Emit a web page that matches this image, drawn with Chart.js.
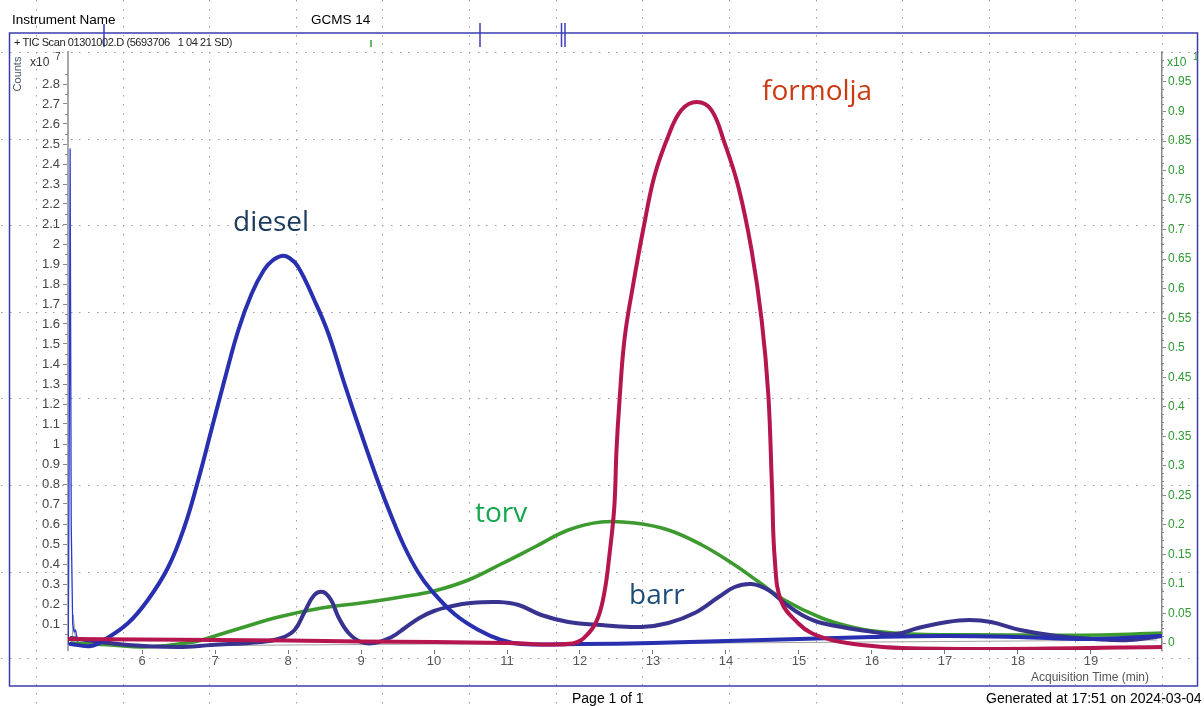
<!DOCTYPE html>
<html><head><meta charset="utf-8">
<script src="https://cdn.jsdelivr.net/npm/chart.js@4.4.1/dist/chart.umd.min.js"></script>
<style>
html,body{margin:0;padding:0;background:#fff;}
#wrap{position:relative;width:1204px;height:706px;overflow:hidden;font-family:"Liberation Sans",Arial,sans-serif;}
canvas{position:absolute;left:0;top:0;}
.t{position:absolute;white-space:nowrap;line-height:1;}
.ann{position:absolute;white-space:nowrap;font-family:"Open Sans",sans-serif;font-size:28px;line-height:28px;}
</style></head>
<body><div id="wrap"><canvas id="c" width="1204" height="706"></canvas>
<div class="t" style="left:12px;top:13px;font-size:13.5px;color:#000">Instrument Name</div>
<div class="t" style="left:311px;top:13px;font-size:13.5px;color:#000">GCMS 14</div>
<div class="t" style="left:14px;top:37px;font-size:11px;letter-spacing:-0.4px;color:#222">+ TIC Scan 01301002.D (5693706&nbsp;&nbsp; 1 04 21 SD)</div>
<div class="t" style="left:17px;top:74px;font-size:11px;color:#4c5868;transform:translate(-50%,-50%) rotate(-90deg)">Counts</div>
<div class="t" style="left:30px;top:56px;font-size:12px;color:#333">x10</div>
<div class="t" style="left:55px;top:52px;font-size:10px;color:#333">7</div>
<div class="t" style="left:1167px;top:56px;font-size:12px;color:#2e9b33">x10</div>
<div class="t" style="left:1193px;top:52px;font-size:10px;color:#2e9b33">1</div>
<div class="t" style="left:1031px;top:671px;font-size:12px;color:#555">Acquisition Time (min)</div>
<div class="t" style="left:572px;top:691px;font-size:14px;color:#000">Page 1 of 1</div>
<div class="t" style="left:986px;top:691px;font-size:14px;color:#000">Generated at 17:51 on 2024-03-04</div>
<div class="ann" style="left:233px;top:206px;color:#1c3a5c">diesel</div>
<div class="ann" style="left:475px;top:497px;color:#14a84e">torv</div>
<div class="ann" style="left:629px;top:579px;color:#1f4d7a">barr</div>
<div class="ann" style="left:762px;top:75px;color:#cc3a12">formolja</div>
</div>
<script>
// ---- data (time in min, counts in x10^7) ----
const dieselTime   = [5.02,5.3,5.48,5.81,6.08,6.36,6.58,6.77,6.95,7.13,7.32,7.5,7.67,7.78,7.91,8.02,8.14,8.36,8.55,8.77,9.0,9.24,9.42,9.59,9.78,9.96,10.28,10.61,10.92,11.2,12.0,13.0,14.0,15.0,16.0,17.0,18.0,19.0,19.97];
const dieselCounts = [0.0,-0.01,0.02,0.105,0.22,0.385,0.585,0.82,1.07,1.32,1.57,1.75,1.87,1.915,1.94,1.93,1.885,1.72,1.555,1.305,1.055,0.805,0.635,0.49,0.36,0.27,0.15,0.07,0.02,0.0,0.0,0.005,0.015,0.025,0.035,0.04,0.035,0.025,0.04];

const barrTime   = [5.03,5.81,6.49,6.95,7.63,7.91,8.09,8.22,8.36,8.48,8.59,8.69,8.83,9.0,9.18,9.42,9.6,9.8,10.0,10.25,10.5,10.88,11.16,11.47,11.84,12.29,12.84,13.21,13.57,13.9,14.12,14.35,14.58,14.8,15.04,15.31,16.02,16.33,16.63,17.03,17.33,17.63,18.03,18.53,19.03,19.53,19.97];
const barrCounts = [0.03,-0.005,-0.015,-0.005,0.01,0.03,0.07,0.155,0.245,0.26,0.22,0.135,0.055,0.01,0.005,0.035,0.08,0.13,0.165,0.19,0.205,0.21,0.195,0.145,0.11,0.095,0.085,0.105,0.155,0.235,0.285,0.3,0.27,0.205,0.145,0.105,0.06,0.05,0.08,0.11,0.12,0.11,0.07,0.04,0.025,0.02,0.04];

const torvTime   = [5.03,5.58,6.03,6.71,7.04,7.4,7.87,8.46,9.0,9.55,10.0,10.47,10.92,11.38,11.84,12.29,12.75,13.21,13.67,14.12,14.45,14.8,15.31,15.72,16.02,16.53,17.78,19.15,19.97];
const torvCounts = [0.005,-0.005,-0.015,0.01,0.045,0.085,0.135,0.18,0.205,0.235,0.265,0.32,0.4,0.485,0.57,0.61,0.605,0.57,0.495,0.395,0.31,0.22,0.13,0.085,0.065,0.05,0.045,0.045,0.055];

const formoljaTime   = [5.0,6.0,7.0,8.0,9.0,10.0,11.0,11.9,12.12,12.25,12.34,12.4,12.47,12.5,12.54,12.61,12.73,12.87,13.02,13.21,13.39,13.6,13.8,13.98,14.17,14.35,14.49,14.58,14.63,14.67,14.76,15.0,15.17,15.45,15.86,16.41,17.78,19.97];
const formoljaCounts = [0.025,0.023,0.02,0.017,0.013,0.01,0.005,0.003,0.055,0.135,0.27,0.435,0.685,0.97,1.21,1.525,1.8,2.08,2.34,2.54,2.67,2.71,2.67,2.505,2.285,1.97,1.615,1.245,0.785,0.415,0.21,0.1,0.055,0.02,-0.005,-0.02,-0.025,-0.015];

const ticTime   = [4.99,5.005,5.015,5.03,5.05,5.07,5.09,5.12,5.2];
const ticCounts = [0.0,1.2,2.475,0.6,0.1,0.06,0.07,0.01,-0.015];

const ticGreyTime   = [5.04,5.06,5.08,5.1,5.13,6,8,10,12,14,16,18,19.9];
const ticGreyCounts = [0.0,0.145,0.05,0.02,0.0,-0.01,-0.005,0.0,0.0,0.005,0.01,0.015,0.02];

const xTickValues     = [6,7,8,9,10,11,12,13,14,15,16,17,18,19];
const leftTickValues  = [0.1,0.2,0.3,0.4,0.5,0.6,0.7,0.8,0.9,1,1.1,1.2,1.3,1.4,1.5,1.6,1.7,1.8,1.9,2,2.1,2.2,2.3,2.4,2.5,2.6,2.7,2.8];
const rightTickValues = [0,0.05,0.1,0.15,0.2,0.25,0.3,0.35,0.4,0.45,0.5,0.55,0.6,0.65,0.7,0.75,0.8,0.85,0.9,0.95];

const mk = (t, v) => t.map((x, i) => ({x: x, y: v[i]}));
const fmt = v => String(+(+v).toFixed(2));

const pagePlugin = {
  id: 'page',
  beforeDatasetsDraw(chart) {
    const ctx = chart.ctx;
    ctx.save();
    ctx.fillStyle = '#9c9c9c';
    const step = 86.62, d = step / 10;
    for (let gx = 36; gx < 1204; gx += step) {
      for (let y = 52 % d; y < 706; y += d) ctx.fillRect(Math.round(gx), Math.round(y), 1, 1.5);
    }
    for (let gy = 52; gy < 706; gy += step) {
      for (let x = 36 % d; x < 1204; x += d) ctx.fillRect(Math.round(x), Math.round(gy), 1.5, 1);
    }
    ctx.restore();
  },
  afterDraw(chart) {
    const ctx = chart.ctx;
    const ys = chart.scales.y, y2 = chart.scales.y2;
    ctx.save();
    ctx.strokeStyle = '#8a8a8a'; ctx.lineWidth = 1;
    for (let k = 1; k <= 57; k += 2) {
      const p = Math.round(ys.getPixelForValue(k * 0.05)) + 0.5;
      ctx.beginPath(); ctx.moveTo(65, p); ctx.lineTo(68, p); ctx.stroke();
    }
    for (let k = 1; k < 80; k++) {
      if (k % 4 === 0) continue;
      const p = Math.round(y2.getPixelForValue(k * 0.0125)) + 0.5;
      ctx.beginPath(); ctx.moveTo(1162, p); ctx.lineTo(1164, p); ctx.stroke();
    }
    ctx.strokeStyle = '#3c3cb0'; ctx.lineWidth = 1.5;
    ctx.strokeRect(9.5, 33, 1188, 653);
    ctx.strokeStyle = '#3c3cb8'; ctx.lineWidth = 1.5;
    [[104,24,47],[480,23,47],[561.5,23,47],[565,23,47]].forEach(m => {
      ctx.beginPath(); ctx.moveTo(m[0], m[1]); ctx.lineTo(m[0], m[2]); ctx.stroke();
    });
    ctx.strokeStyle = '#3aa03a';
    ctx.beginPath(); ctx.moveTo(371, 40); ctx.lineTo(371, 47); ctx.stroke();
    ctx.restore();
  }
};

const line = (label, t, v, color, w, tension) => ({
  label, data: mk(t, v), borderColor: color, borderWidth: w, pointRadius: 0, fill: false,
  cubicInterpolationMode: 'default', tension: tension,
  borderCapStyle: 'round', borderJoinStyle: 'round'
});

new Chart(document.getElementById('c').getContext('2d'), {
  type: 'line',
  data: { datasets: [
    line('formolja', formoljaTime, formoljaCounts, '#b5164f', 4, 0.4),
    line('diesel', dieselTime, dieselCounts, '#2830b0', 4, 0.4),
    line('barr', barrTime, barrCounts, '#38338f', 4, 0.4),
    line('torv', torvTime, torvCounts, '#3c9a2f', 3.6, 0.4),
    line('TIC', ticTime, ticCounts, '#2a3ad0', 1.3, 0),
    line('TIC2', ticGreyTime, ticGreyCounts, '#a0a0a0', 1, 0)
  ]},
  options: {
    responsive: false, animation: false, events: [],
    layout: { padding: { top: 52, left: 0, right: 0, bottom: 0 } },
    plugins: { legend: { display: false }, tooltip: { enabled: false } },
    scales: {
      x: {
        type: 'linear', position: 'bottom', min: 4.986, max: 19.973,
        afterFit(s) { s.height = 56; },
        afterBuildTicks(s) { s.ticks = xTickValues.map(v => ({value: v})); },
        grid: { display: true, drawOnChartArea: false, drawTicks: true, tickLength: 4, color: '#777' },
        border: { display: false },
        ticks: { autoSkip: false, maxRotation: 0, padding: 0, color: '#555', font: { family: 'Liberation Sans', size: 13 }, callback: v => fmt(v) }
      },
      y: {
        type: 'linear', position: 'left', min: -0.03, max: 2.96,
        afterFit(s) { s.width = 68; },
        afterBuildTicks(s) { s.ticks = leftTickValues.map(v => ({value: v})); },
        grid: { display: true, drawOnChartArea: false, drawTicks: true, tickLength: 5, color: '#888' },
        border: { display: true, color: '#a8a8a8', width: 2 },
        ticks: { autoSkip: false, padding: 3, color: '#444', font: { family: 'Liberation Sans', size: 13 }, callback: v => fmt(v) }
      },
      y2: {
        type: 'linear', position: 'right', min: -0.01185, max: 1.0008,
        afterFit(s) { s.width = 42; },
        afterBuildTicks(s) { s.ticks = rightTickValues.map(v => ({value: v})); },
        grid: { display: true, drawOnChartArea: false, drawTicks: true, tickLength: 4, color: '#888' },
        border: { display: true, color: '#888', width: 1.5 },
        ticks: { autoSkip: false, padding: 2, color: '#2e9b33', font: { family: 'Liberation Sans', size: 12 }, callback: v => fmt(v) }
      }
    }
  },
  plugins: [pagePlugin]
});
</script>
</body></html>
